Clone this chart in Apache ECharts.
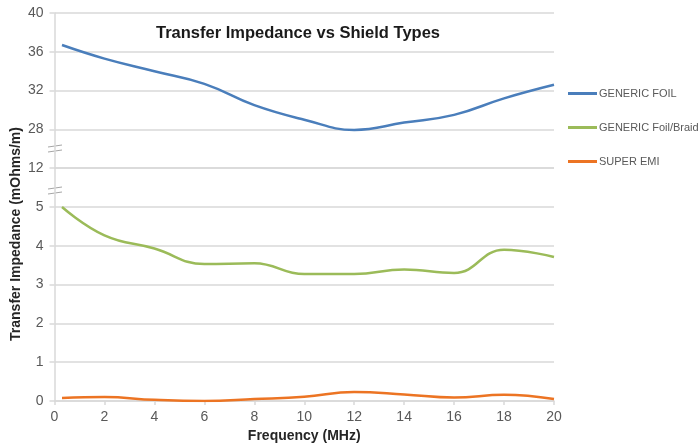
<!DOCTYPE html>
<html>
<head>
<meta charset="utf-8">
<script src="https://cdn.jsdelivr.net/npm/echarts@6/dist/echarts.min.js"></script>
<style>html,body{margin:0;padding:0;background:#fff}#c{width:699px;height:443px}</style>
</head>
<body>
<div id="c"></div>
<script>
// Data
const freq = [0.3, 2, 4, 6, 8, 10, 12, 14, 16, 18, 20];
const genericFoil = [36.7, 35.3, 34.0, 32.7, 30.5, 29.0, 27.95, 28.7, 29.5, 31.2, 32.6];
const genericFoilBraid = [5.0, 4.27, 3.93, 3.53, 3.55, 3.27, 3.27, 3.39, 3.30, 3.90, 3.71];
const superEmi = [0.08, 0.1, 0.03, 0.0, 0.05, 0.11, 0.23, 0.17, 0.09, 0.16, 0.05];
const seriesNames = ['GENERIC FOIL', 'GENERIC Foil/Braid', 'SUPER EMI'];
const yLabelsLow = ['0', '1', '2', '3', '4', '5', '12'];
const xTicks = [0, 2, 4, 6, 8, 10, 12, 14, 16, 18, 20];

const pairs = arr => freq.map((f, i) => [f, arr[i]]);
const FONT = '"Liberation Sans", Arial, sans-serif';
const GRID = '#d9d9d9';
const LBL = '#595959';
const colors = ['#4a7ebb', '#9bbb59', '#ec7423'];

const chart = echarts.init(document.getElementById('c'));

function breakMark(cy) {
  return {
    type: 'group', x: 55, y: cy,
    children: [
      { type: 'polygon', shape: { points: [[-7, -1], [7, -3], [7, 2], [-7, 4]] }, style: { fill: '#fff' } },
      { type: 'line', shape: { x1: -7, y1: -1, x2: 7, y2: -3 }, style: { stroke: '#a6a6a6', lineWidth: 1 } },
      { type: 'line', shape: { x1: -7, y1: 4, x2: 7, y2: 2 }, style: { stroke: '#a6a6a6', lineWidth: 1 } }
    ]
  };
}

const option = {
  animation: false,
  backgroundColor: '#fff',
  title: {
    text: 'Transfer Impedance vs Shield Types',
    left: 298, textAlign: 'center', top: 25, padding: 0,
    textStyle: { fontFamily: FONT, fontSize: 16.5, fontWeight: 'bold', color: '#1a1a1a' }
  },
  legend: {
    orient: 'vertical', left: 568, top: 88, padding: 0,
    data: seriesNames,
    icon: 'rect', itemWidth: 29, itemHeight: 3, itemGap: 23,
    textStyle: { fontFamily: FONT, fontSize: 11, color: LBL, padding: [0, 0, 0, -3] }
  },
  grid: [
    { left: 54.5, right: 145, top: 13, height: 155.2, outerBoundsMode: 'none', containLabel: false },
    { left: 54.5, right: 145, top: 168.2, height: 232.8, outerBoundsMode: 'none', containLabel: false }
  ],
  xAxis: [
    { gridIndex: 0, type: 'value', min: 0, max: 20, show: false },
    {
      gridIndex: 1, type: 'value', min: 0, max: 20, interval: 2,
      name: 'Frequency (MHz)', nameLocation: 'middle', nameGap: 25,
      nameTextStyle: { fontFamily: FONT, fontSize: 14, fontWeight: 'bold', color: '#262626' },
      axisLine: { show: true, lineStyle: { color: GRID, width: 1.5 } },
      axisTick: { show: true, length: 4, lineStyle: { color: GRID, width: 1.5 } },
      axisLabel: { fontFamily: FONT, fontSize: 14, color: LBL, margin: 9,
        formatter: v => xTicks.includes(v) ? String(v) : '' },
      splitLine: { show: false }
    }
  ],
  yAxis: [
    {
      gridIndex: 0, type: 'value', min: 24, max: 40, interval: 4,
      axisLine: { show: true, lineStyle: { color: GRID, width: 1.5 } },
      axisTick: { show: true, length: 5, lineStyle: { color: GRID, width: 1.5 } },
      axisLabel: { fontFamily: FONT, fontSize: 14, color: LBL, margin: 11, showMinLabel: false },
      splitLine: { show: true, lineStyle: { color: GRID, width: 1.5 } }
    },
    {
      gridIndex: 1, type: 'value', min: 0, max: 6, interval: 1,
      axisLine: { show: true, lineStyle: { color: GRID, width: 1.5 } },
      axisTick: { show: true, length: 5, lineStyle: { color: GRID, width: 1.5 } },
      axisLabel: { fontFamily: FONT, fontSize: 14, color: LBL, margin: 11,
        formatter: v => yLabelsLow[v] },
      splitLine: { show: true, lineStyle: { color: GRID, width: 1.5 } }
    }
  ],
  graphic: [
    {
      type: 'text', x: 16, y: 234, rotation: Math.PI / 2,
      style: { text: 'Transfer Impedance (mOhms/m)', fontFamily: FONT, fontSize: 14, fontWeight: 'bold',
        fill: '#262626', textAlign: 'center', textVerticalAlign: 'middle' }
    },
    breakMark(148),
    breakMark(190)
  ],
  series: [
    { name: seriesNames[0], type: 'line', xAxisIndex: 0, yAxisIndex: 0, data: pairs(genericFoil),
      smooth: 0.45, symbol: 'none', lineStyle: { color: colors[0], width: 2.5 }, itemStyle: { color: colors[0] } },
    { name: seriesNames[1], type: 'line', xAxisIndex: 1, yAxisIndex: 1, data: pairs(genericFoilBraid),
      smooth: 0.45, symbol: 'none', lineStyle: { color: colors[1], width: 2.5 }, itemStyle: { color: colors[1] } },
    { name: seriesNames[2], type: 'line', xAxisIndex: 1, yAxisIndex: 1, data: pairs(superEmi),
      smooth: 0.45, symbol: 'none', lineStyle: { color: colors[2], width: 2.5 }, itemStyle: { color: colors[2] } }
  ]
};
chart.setOption(option);
</script>
</body>
</html>
